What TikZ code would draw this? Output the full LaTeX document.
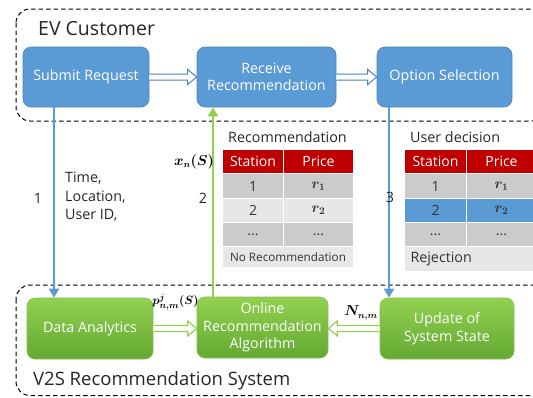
\documentclass[tikz,border=0pt]{standalone}
\usepackage{fontspec}
\setmainfont{Open Sans}
\usetikzlibrary{arrows.meta,calc}
\definecolor{boxblue}{HTML}{5B9BD5}
\definecolor{boxblueline}{HTML}{4A84BC}
\definecolor{grntop}{HTML}{92D050}
\definecolor{grnbot}{HTML}{64A934}
\definecolor{grnline}{HTML}{86C24A}
\definecolor{hdrred}{HTML}{C00000}
\definecolor{rowdark}{HTML}{CBCBCB}
\definecolor{rowlight}{HTML}{E7E7E7}
\begin{document}
\begin{tikzpicture}[x=1pt,y=-1pt,
  boxfont/.style={font=\fontsize{14.3}{17.5}\selectfont},
  bluebox/.style={boxfont, draw=boxblueline, line width=0.6pt, fill=boxblue,
    rounded corners=8pt, text=white, align=center, inner sep=2pt},
  greenbox/.style={boxfont, draw=grnline, line width=0.6pt, top color=grntop,
    bottom color=grnbot, rounded corners=8pt, text=white, align=center, inner sep=2pt},
  group/.style={draw=black, dash pattern=on 4.5pt off 3pt, line width=1pt, rounded corners=14pt},
  bluelink/.style={draw=boxblue, line width=2.2pt, -{Triangle[length=9pt,width=10pt]}},
  greenlink/.style={draw=grntop, line width=2.6pt, -{Triangle[length=9pt,width=10pt]}},
  hollowblue/.style={draw=boxblueline, fill=white, line width=1pt, line join=miter},
  hollowgreen/.style={draw=grntop, fill=white, line width=1.2pt, line join=miter},
  cell/.style={draw=white, line width=1pt, anchor=north west, inner sep=0pt,
    font=\boldmath\fontsize{14}{16}\selectfont},
  hdr/.style={cell, fill=hdrred, text=white},
  dark/.style={cell, fill=rowdark, text=black!80},
  light/.style={cell, fill=rowlight, text=black!80},
  pick/.style={cell, fill=boxblue, text=black!80},
  plain/.style={font=\fontsize{14.3}{18.5}\selectfont, text=black!85},
  mathlbl/.style={inner sep=0pt, font=\boldmath\fontsize{13.5}{16}\selectfont},
]
\useasboundingbox (0,0) rectangle (533,397);
\begin{scope}
\clip (0,0) rectangle (533,397);

% customer side and system side groups
\draw[group] (16,9) rectangle (545,121);
\draw[group] (16,285) rectangle (545,395.5);
\node[anchor=west, inner sep=0pt, font=\fontsize{19.5}{22}\selectfont, text=black!85] (evlbl) at (38,29) {EV Customer};
\node[anchor=west, inner sep=0pt, font=\fontsize{18.5}{21}\selectfont, text=black!85] (syslbl) at (33,381) {V2S Recommendation System};

% customer steps
\node[bluebox, minimum width=126pt, minimum height=60pt] (sub) at (86,77) {Submit Request};
\node[bluebox, minimum width=139pt, minimum height=60pt] (rec) at (266.5,77) {Receive\\Recommendation};
\node[bluebox, minimum width=135pt, minimum height=60pt] (opt) at (444.5,77) {Option Selection};

% system modules
\node[greenbox, minimum width=126pt, minimum height=61pt] (da) at (90,328.5) {Data Analytics};
\node[greenbox, minimum width=131pt, minimum height=61pt] (ora) at (262.5,327.5) {Online\\Recommendation\\Algorithm};
\node[greenbox, minimum width=134pt, minimum height=61pt] (upd) at (447,328.5) {Update of\\System State};

% hollow block arrows between neighbouring steps
\draw[hollowblue] let \p1=(sub.east), \p2=(rec.west) in
  (\x1,\y1-3) -- (\x2-9,\y1-3) -- (\x2-9,\y1-7.5) -- (\x2,\y1) -- (\x2-9,\y1+7.5) -- (\x2-9,\y1+3) -- (\x1,\y1+3);
\draw[hollowblue] let \p1=(rec.east), \p2=(opt.west) in
  (\x1,\y1-3) -- (\x2-9,\y1-3) -- (\x2-9,\y1-7.5) -- (\x2,\y1) -- (\x2-9,\y1+7.5) -- (\x2-9,\y1+3) -- (\x1,\y1+3);
\draw[hollowgreen] let \p1=(da.east), \p2=(ora.west) in
  (\x1,\y1-3) -- (\x2-9,\y1-3) -- (\x2-9,\y1-7.5) -- (\x2,\y1) -- (\x2-9,\y1+7.5) -- (\x2-9,\y1+3) -- (\x1,\y1+3);
\draw[hollowgreen] let \p1=(upd.west), \p2=(ora.east) in
  (\x1,\y1-3) -- (\x2+9,\y1-3) -- (\x2+9,\y1-7.5) -- (\x2,\y1) -- (\x2+9,\y1+7.5) -- (\x2+9,\y1+3) -- (\x1,\y1+3);

% vertical links
\coordinate (c1) at (54,0);
\coordinate (c2) at (213,0);
\coordinate (c3) at (389,0);
\draw[bluelink] (sub.south -| c1) -- (da.north -| c1);
\draw[greenlink] (ora.north -| c2) -- (rec.south -| c2);
\draw[bluelink] (opt.south -| c3) -- (upd.north -| c3);

% link labels
\node[plain] (n1) at (38,198) {1};
\node[plain, anchor=west, align=left, inner sep=0pt] (info) at (65,197) {Time,\\Location,\\User ID,};
\node[plain] (n2) at (203,198) {2};
\node[plain] (n3) at (390,197) {3};
\node[mathlbl] (xlbl) at (194,162) {$x_n(S)$};
\node[mathlbl, font=\boldmath\fontsize{12.5}{15}\selectfont] (plbl) at (175.5,302) {$p^{j}_{n,m}(S)$};
\node[mathlbl] (nlbl) at (361,313) {$N_{n,m}$};

% recommendation table
\node[plain, anchor=west, inner sep=0pt] (rtitle) at (228,137) {Recommendation};
\node[hdr, minimum width=61pt, minimum height=24pt] (r00) at (222,149) {Station};
\node[hdr, minimum width=70pt, minimum height=24pt] (r01) at (283,149) {Price};
\node[dark, minimum width=61pt, minimum height=25pt] (r10) at (222,173) {1};
\node[dark, minimum width=70pt, minimum height=25pt] (r11) at (283,173) {$r_1$};
\node[light, minimum width=61pt, minimum height=24pt] (r20) at (222,198) {2};
\node[light, minimum width=70pt, minimum height=24pt] (r21) at (283,198) {$r_2$};
\node[dark, minimum width=61pt, minimum height=24pt] (r30) at (222,222) {...};
\node[dark, minimum width=70pt, minimum height=24pt] (r31) at (283,222) {...};
\node[light, minimum width=131pt, minimum height=21pt, font=\fontsize{11.7}{13}\selectfont] (r40) at (222,246) {No Recommendation};

% user decision table
\node[plain, anchor=west, inner sep=0pt] (utitle) at (410,137) {User decision};
\node[hdr, minimum width=62pt, minimum height=24pt] (u00) at (404,149) {Station};
\node[hdr, minimum width=70pt, minimum height=24pt] (u01) at (466,149) {Price};
\node[dark, minimum width=62pt, minimum height=25pt] (u10) at (404,173) {1};
\node[dark, minimum width=70pt, minimum height=25pt] (u11) at (466,173) {$r_1$};
\node[pick, minimum width=62pt, minimum height=24pt] (u20) at (404,198) {2};
\node[pick, minimum width=70pt, minimum height=24pt] (u21) at (466,198) {$r_2$};
\node[dark, minimum width=62pt, minimum height=24pt] (u30) at (404,222) {...};
\node[dark, minimum width=70pt, minimum height=24pt] (u31) at (466,222) {...};
\node[light, minimum width=132pt, minimum height=25pt, text width=126pt, align=left, inner xsep=6pt, font=\fontsize{14.3}{16}\selectfont] (u40) at (404,246) {Rejection};
\end{scope}
\end{tikzpicture}
\end{document}
